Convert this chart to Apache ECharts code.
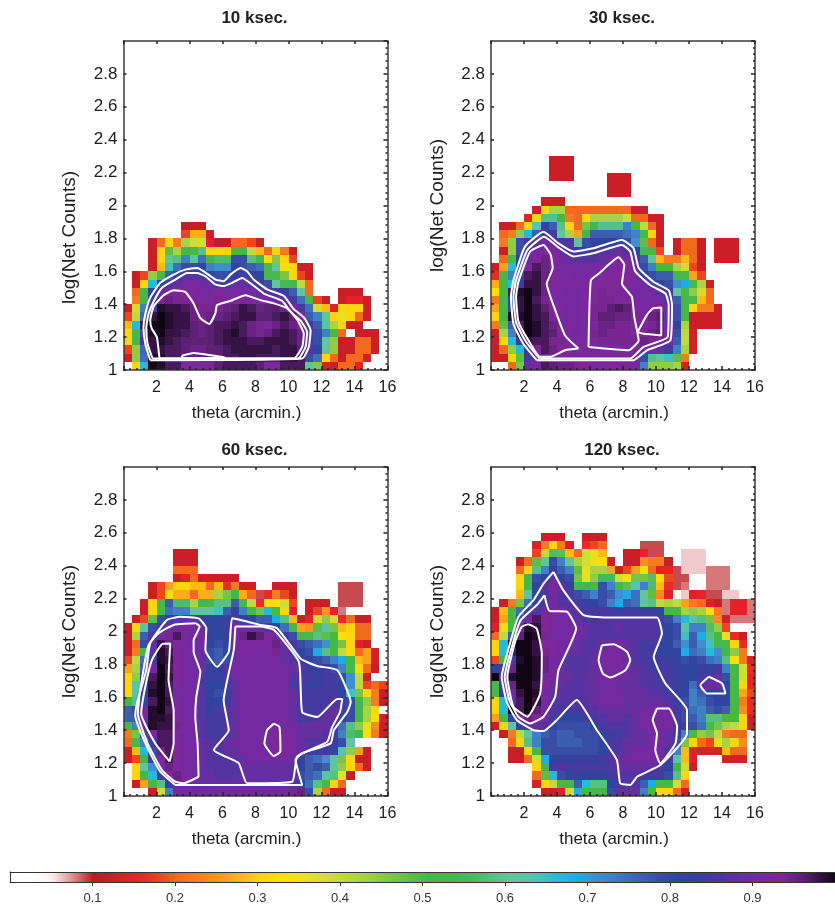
<!DOCTYPE html>
<html><head><meta charset="utf-8">
<style>html,body{margin:0;padding:0;background:#fff}#c{width:835px;height:907px;filter:blur(0.5px)}</style>
<script src="https://cdn.jsdelivr.net/npm/echarts@6/dist/echarts.min.js"></script>
</head><body><div id="c"></div>
<script>
const panelTitles=['10 ksec.','30 ksec.','60 ksec.','120 ksec.'];
const xName='theta (arcmin.)', yName='log(Net Counts)';
const colorbarTicks=[0.1,0.2,0.3,0.4,0.5,0.6,0.7,0.8,0.9];
// colour scale, one stop per 0.025
const scaleColors=['#ffffff','#ffffff','#fdf0f0','#dd8e90','#b81c22','#d0202a','#e8202a','#ee3a20','#f26a20','#f58020','#f89520','#fcb515','#ffd50f','#ffdf00','#f0e215','#d8de2d','#bfd940','#a5d243','#86c845','#65bf47','#45b848','#42b84d','#47ba5e','#55c07e','#60c59a','#58c4ac','#30bdd0','#12b5ea','#3f8fd0','#3f7cc4','#3d66b6','#3a50a8','#2f45a0','#3a3f9e','#4a37a0','#6230a0','#7429a0','#80279a','#5c2075','#2c1038','#000000'];

// fraction in percent; each row is one 0.05 step of log(Net Counts) from 1, each column one 0.5 arcmin step from 0
const rows10=[
[0,30,66,99,98,96,96,92,91,91,92,95,96,96,96,96,95,91,91,96,96,96,60,45,13,12,20,20,15],
[12,44,74,98,98,96,96,95,94,95,95,95,96,96,97,97,96,96,96,97,97,96,78,74,30,20,12,20,20,13],
[18,44,75,97,97,96,96,95,94,94,95,95,96,97,97,97,97,97,96,97,97,95,86,80,60,44,12,12,20,20,12],
[30,50,84,97,98,97,96,95,95,95,95,96,97,97,97,96,96,97,97,97,96,94,84,78,60,44,12,12,20,20,12],
[30,50,78,98,99,97,97,96,95,94,95,96,97,98,96,94,93,94,96,97,96,94,84,78,72,50,20,0,12,12,12],
[28,66,97,99,99,98,97,97,95,94,95,96,96,97,96,94,93,92,94,96,94,93,84,76,62,42,30,12,12],
[18,40,75,97,99,98,97,97,94,93,94,94,95,96,97,97,95,95,96,97,95,92,76,72,60,30,36,30,20,12],
[12,38,72,85,98,97,97,96,94,93,93,93,94,95,97,96,94,95,95,94,92,84,74,38,28,14,30,30,30,12],
[0,22,50,84,93,94,93,93,92,91,91,93,91,92,92,92,91,90,90,86,84,74,50,18,12,0,12,15,15,12],
[0,20,50,80,88,90,92,92,92,90,90,92,90,90,90,90,88,86,84,82,76,60,20,0,0,0,12,12,12],
[0,12,30,66,80,86,88,90,90,90,88,84,84,88,88,86,82,78,60,54,50,40,20],
[0,12,18,44,50,76,82,86,86,84,80,78,78,82,84,80,80,50,50,46,30,18,12],
[0,0,0,12,28,64,74,78,78,80,72,70,70,80,78,76,74,50,60,34,30,12,12],
[0,0,0,12,30,60,58,72,62,74,50,56,56,78,78,58,52,32,45,30,18],
[0,0,0,12,30,48,42,50,50,58,30,30,30,50,50,40,28,20,30,22,12],
[0,0,0,12,20,30,22,42,38,38,14,11,11,20,20,18,12],
[0,0,0,0,0,0,0,18,27,27,12],
[0,0,0,0,0,0,0,11,11,11]];
const rows30=[
[0,0,20,46,88,90,96,95,94,94,93,92,91,91,91,92,93,90,72,44,44,44,42,13],
[12,12,30,48,84,90,93,93,92,92,92,92,92,92,92,92,92,90,78,58,60,64,48,22],
[12,20,44,66,84,93,96,94,92,91,91,91,90,91,91,91,91,91,90,90,88,84,72,42,13],
[12,30,66,82,97,96,96,93,93,91,91,91,92,93,93,93,93,93,94,93,93,88,76,40,13],
[12,42,72,96,99,98,96,95,92,91,90,91,93,94,93,93,93,91,92,94,95,92,78,40,13],
[22,48,76,96,99,98,96,94,91,91,90,91,92,94,94,93,93,92,92,93,94,90,80,42,12,12,12,12],
[30,50,98,98,99,97,96,92,91,90,90,91,93,95,95,94,94,93,92,94,95,88,78,50,12,12,12,12],
[26,50,80,97,99,97,95,92,91,90,90,92,93,93,95,96,95,92,90,92,93,88,78,50,30,22,22,12],
[22,50,80,97,99,96,93,92,90,90,90,92,92,93,93,92,92,91,90,90,90,84,76,50,52,28,20],
[33,50,96,98,99,97,94,91,91,90,90,91,92,93,92,91,91,90,90,90,86,84,60,50,44,38,20],
[27,50,66,84,97,97,94,92,91,91,91,92,92,92,92,92,92,90,90,84,80,78,70,68,50,42,12],
[16,50,72,84,96,97,94,92,91,91,90,90,91,91,92,92,92,90,82,78,76,76,50,50,26,18],
[12,26,66,84,92,96,94,92,90,90,90,90,90,90,90,92,92,88,78,72,50,50,42,38,18,12],
[0,20,50,80,88,92,94,92,90,88,86,86,86,88,90,92,90,86,76,60,28,22,22,28,20,12,0,12,12,12],
[0,12,44,78,86,90,92,92,88,86,84,82,84,86,86,88,86,80,54,50,18,0,12,20,20,12,0,12,12,12],
[0,22,44,78,84,86,90,90,84,86,60,78,80,80,82,80,78,70,48,20,12,0,12,20,20,12,0,12,12,12],
[0,20,22,44,66,76,84,84,60,42,26,50,76,76,76,76,74,72,50,30,12],
[0,12,12,20,30,62,80,76,58,30,20,46,50,58,58,58,72,50,40,20,12],
[0,0,0,0,15,30,58,58,50,22,20,30,42,42,42,42,38,20,20,12,12],
[0,0,0,0,0,12,30,42,42,20,20,20,20,20,20,20,20,12,12],
[0,0,0,0,0,0,12,12,12],
[0,0,0,0,0,0,0,0,0,0,0,0,0,0,12,12,12],
[0,0,0,0,0,0,0,0,0,0,0,0,0,0,12,12,12],
[0,0,0,0,0,0,0,12,12,12,0,0,0,0,12,12,12],
[0,0,0,0,0,0,0,12,12,12],
[0,0,0,0,0,0,0,12,12,12]];
const rows60=[
[0,0,0,12,38,72,90,90,90,90,90,90,90,90,90,90,90,90,90,90,90,94,78,42,20,12,12],
[0,12,26,50,58,80,90,90,90,88,88,88,88,88,88,88,88,88,88,88,86,80,74,58,50,30,20],
[0,30,50,66,84,92,94,92,90,88,88,86,86,86,88,88,88,88,88,88,86,78,76,74,62,58,36,12],
[0,30,60,70,90,94,91,90,90,88,86,86,86,86,88,88,88,88,88,88,86,82,76,78,76,60,44,30,20,12],
[12,18,50,80,92,96,92,90,90,88,86,86,86,88,88,90,90,90,90,90,88,80,76,74,70,62,46,30,12,12],
[12,28,66,78,94,96,92,90,90,88,86,86,88,88,90,90,90,90,92,92,90,88,84,84,84,80,62,44,26,12],
[20,50,72,84,96,96,92,90,90,88,86,86,88,90,90,90,90,90,92,92,90,88,86,86,86,84,78,60],
[22,46,78,92,96,96,92,90,90,86,84,84,86,88,90,90,90,90,92,92,90,88,88,88,86,84,72,56,50,32,22,12],
[50,72,88,98,97,97,93,90,90,86,84,84,86,88,90,90,90,90,90,90,90,88,88,88,88,84,74,58,44,36,24,12],
[76,76,92,98,98,97,92,90,90,86,84,84,84,88,90,90,90,90,90,90,88,84,84,86,88,88,80,78,50,42,32,13],
[76,78,90,98,99,96,92,90,90,86,82,84,86,88,90,90,90,90,90,90,88,84,84,84,86,88,84,78,50,42,30],
[50,58,80,96,99,97,91,90,90,86,82,80,84,88,90,90,90,90,90,90,88,84,84,84,84,86,84,78,50,44,22,12],
[30,62,82,98,99,96,90,90,90,86,80,78,82,88,90,90,90,90,90,90,88,84,84,84,84,84,80,64,46,30,22,12],
[30,62,80,97,99,96,91,90,90,86,80,80,84,88,90,90,90,90,90,90,84,84,82,82,84,84,80,70,40,18,20,18],
[30,44,80,96,99,97,92,90,90,86,82,82,84,90,90,90,90,90,90,90,86,84,84,82,84,84,78,70,40,12],
[26,42,76,90,99,96,92,90,90,88,82,82,86,90,90,90,90,90,90,90,88,86,82,82,84,78,72,50,30,20,12],
[18,40,74,84,98,97,92,90,90,88,78,76,78,90,90,90,90,90,90,88,86,82,80,78,76,72,68,50,28,26,13],
[12,22,50,86,98,96,92,90,90,88,78,76,80,90,91,91,90,90,93,88,84,80,78,68,58,50,40,30,20,26,13],
[12,20,78,88,97,94,92,91,90,90,80,78,80,90,91,91,91,91,94,88,84,78,76,74,70,52,46,30,14,12],
[12,42,76,84,90,93,96,91,90,90,82,80,82,90,94,97,95,91,89,84,78,50,50,58,48,50,34,30,20,20],
[12,30,62,78,84,88,90,91,90,88,80,80,84,90,90,88,88,84,80,74,50,26,25,48,62,46,28,30,20,20],
[0,12,18,48,78,84,86,88,86,84,80,80,82,86,80,80,76,76,68,58,28,12,15,38,44,38,16,20,12,12],
[0,0,12,30,50,74,72,72,60,60,60,64,76,80,72,50,46,66,52,30,14,0,12,18,25,15,8],
[0,0,12,30,50,76,56,56,42,50,50,58,58,76,50,40,16,34,34,38,18,0,12,12,12,0,9,9,9],
[0,0,0,12,18,36,27,27,20,27,27,42,46,50,27,20,9,16,22,18,12,0,0,0,0,0,9,9,9],
[0,0,0,12,18,26,30,30,28,28,20,28,16,22,12,12,0,0,12,12,12,0,0,0,0,0,9,9,9],
[0,0,0,0,0,0,12,15,20,12,12,12,12,12],
[0,0,0,0,0,0,20,20,20],
[0,0,0,0,0,0,12,12,12],
[0,0,0,0,0,0,12,12,12]];
const rows120=[
[0,0,0,0,0,0,12,12,14,38,68,50,50,50,78,88,88,88,72,50,30,30,20,12],
[0,0,0,0,0,13,30,40,50,50,76,66,58,58,80,84,86,86,76,68,50,50,38,20],
[0,0,0,0,0,20,48,66,78,80,82,82,82,82,84,86,86,86,84,84,84,78,58,30],
[0,0,0,0,0,30,50,84,86,84,84,84,84,84,86,88,88,88,88,88,86,80,50,38,12],
[0,0,12,12,20,38,68,80,82,82,82,82,82,84,86,88,90,90,90,90,90,84,62,28,14,0,0,0,13,13,13],
[0,0,12,12,30,50,78,78,78,78,78,78,78,80,84,86,88,90,90,90,90,84,72,28,14,13,13,13,28,20,20],
[0,0,20,30,58,72,78,78,76,76,76,78,78,80,84,86,88,88,88,90,90,88,78,46,30,20,18,36,42,30,24],
[0,12,22,40,60,72,76,78,76,76,78,78,78,80,84,84,86,88,88,90,90,88,84,72,50,44,46,40,22,20,20],
[12,30,62,80,86,88,86,80,78,78,78,78,80,84,86,86,86,88,90,90,90,90,84,80,78,74,54,46,42,40,30,12],
[26,50,80,92,94,92,90,84,80,80,80,82,84,86,88,88,86,88,90,90,90,90,84,78,76,72,58,58,50,50,30,12],
[30,66,99,96,99,95,90,86,84,84,84,86,86,88,88,88,88,88,90,90,90,90,84,78,74,72,76,78,76,50,24,16],
[30,66,86,96,99,97,90,86,86,86,86,86,88,90,90,90,88,88,88,88,88,86,82,78,72,74,78,80,80,50,22,16],
[50,80,90,97,99,98,90,88,87,86,86,87,88,90,90,90,88,88,88,86,86,84,82,80,72,76,80,80,80,50,26,18],
[50,84,94,99,99,97,92,88,88,86,86,87,88,89,90,88,88,88,86,85,84,84,82,80,74,88,88,88,80,50,30,15],
[99,86,98,99,99,98,90,90,88,88,86,87,88,90,90,90,89,88,86,86,84,84,82,80,80,84,86,88,78,50,38,15],
[80,84,94,99,99,98,94,90,88,86,86,86,88,90,91,90,89,87,86,84,84,84,82,80,80,82,80,84,72,50,38,16],
[18,52,84,98,99,98,94,90,88,86,86,86,88,90,91,91,88,86,84,84,84,82,80,78,80,78,74,72,58,34,22,14],
[30,66,96,99,99,97,93,91,90,88,88,86,87,90,91,90,88,86,84,84,82,80,80,68,74,72,66,70,50,44,22],
[30,66,98,99,99,97,92,92,90,90,88,86,86,88,90,90,88,86,84,84,82,80,76,70,76,70,64,52,50,30,16],
[20,40,76,95,99,98,93,90,90,90,90,88,86,86,86,86,86,86,86,86,84,80,78,64,76,68,58,50,36,16,12],
[14,36,50,90,98,97,92,90,90,90,90,88,86,86,86,88,86,86,86,86,84,80,78,62,72,72,56,44,18],
[12,26,50,78,90,96,92,90,90,90,87,85,85,86,86,86,86,86,86,86,84,78,72,66,62,58,46,24,13,8,8,8],
[12,28,50,74,84,86,90,90,90,88,86,84,84,84,84,82,84,84,82,82,80,50,50,42,44,42,34,22,8,15,15,8],
[0,12,22,46,74,82,86,90,86,86,84,82,80,78,72,68,76,74,60,58,40,42,40,26,22,20,14,12,8,15,15,8],
[0,0,0,28,62,80,86,90,86,84,78,76,72,78,76,70,68,74,60,48,24,14,0,6,14,15,9,9,6,6],
[0,0,0,30,50,80,88,92,88,82,50,50,52,78,72,50,48,62,72,56,28,16,9,8,0,0,8,8,8],
[0,0,0,30,50,78,80,88,80,78,46,36,44,54,54,38,34,46,46,48,32,18,9,9,0,0,8,8,8],
[0,0,0,20,30,58,72,82,76,72,48,36,42,42,26,12,18,26,34,20,15,15,9,6,6,6,8,8,8],
[0,0,0,12,20,48,60,78,72,60,42,38,36,34,12,0,12,12,24,22,22,12,0,6,6,6],
[0,0,0,0,0,18,40,56,48,28,20,38,36,28,0,0,12,12,15,9,9,0,0,6,6,6],
[0,0,0,0,0,14,22,30,22,13,0,16,18,20,0,0,0,0,9,9,9],
[0,0,0,0,0,0,12,12,12,0,0,12,12,12]];

// white contour lines, [theta, log counts]
const contours10=[
[[1.62,1.06],[1.32,1.16],[1.21,1.26],[1.32,1.34],[1.62,1.44],[2.23,1.53],[3.04,1.58],[3.74,1.61],[4.45,1.62],[4.86,1.60],[5.57,1.55],[6.07,1.54],[6.48,1.58],[7.09,1.62],[7.49,1.60],[7.89,1.55],[8.70,1.49],[9.72,1.45],[10.32,1.37],[10.93,1.32],[11.34,1.24],[11.23,1.14],[10.83,1.07]],
[[1.76,1.07],[1.46,1.16],[1.38,1.26],[1.52,1.34],[1.82,1.415],[2.33,1.50],[3.14,1.55],[3.85,1.59],[4.45,1.59],[4.96,1.57],[5.57,1.52],[6.07,1.51],[6.58,1.53],[7.19,1.56],[7.79,1.52],[8.5,1.465],[9.62,1.42],[10.12,1.355],[10.73,1.30],[11.13,1.23],[11.03,1.14],[10.57,1.07]],
[[2.17,1.08],[2.02,1.20],[1.72,1.25],[1.62,1.30],[1.82,1.385],[2.43,1.455],[3.04,1.485],[3.74,1.475],[4.25,1.405],[4.66,1.315],[5.2,1.28],[5.57,1.345],[5.67,1.395],[6.48,1.42],[7.39,1.455],[8.3,1.425],[9.11,1.405],[9.92,1.375],[10.53,1.305],[10.93,1.22],[10.83,1.14],[10.32,1.07],[2.17,1.07]],
[[3.54,1.087],[4.25,1.103],[5.26,1.09],[6.17,1.077],[3.54,1.07]]];
const contours30=[
[[2.77,1.06],[1.96,1.16],[1.36,1.28],[1.21,1.445],[1.36,1.545],[2.06,1.75],[3.18,1.84],[4.09,1.77],[5.0,1.72],[6.21,1.74],[7.94,1.79],[8.64,1.74],[8.95,1.62],[9.86,1.535],[10.77,1.485],[10.97,1.395],[10.87,1.18],[9.45,1.12],[8.64,1.06]],
[[2.94,1.07],[2.13,1.17],[1.52,1.29],[1.36,1.445],[1.52,1.545],[2.21,1.73],[3.22,1.81],[4.09,1.745],[5.0,1.69],[6.21,1.71],[7.94,1.76],[8.44,1.72],[8.74,1.60],[9.66,1.515],[10.57,1.465],[10.77,1.395],[10.71,1.20],[9.25,1.14],[8.44,1.07]],
[[5.3,1.13],[4.49,1.12],[3.58,1.08],[2.98,1.08],[2.27,1.18],[1.66,1.295],[1.52,1.445],[1.66,1.535],[2.37,1.72],[3.18,1.76],[3.62,1.70],[3.74,1.62],[3.38,1.525],[3.89,1.365],[4.49,1.21]],
[[5.91,1.14],[6.05,1.545],[6.52,1.585],[7.73,1.685],[8.08,1.64],[7.94,1.525],[8.54,1.445],[8.68,1.325],[8.85,1.24],[8.95,1.18],[8.34,1.12]],
[[8.89,1.23],[9.45,1.335],[9.82,1.375],[10.32,1.38],[10.32,1.21],[9.25,1.22]]];
const contours60=[
[[3.14,1.067],[2.23,1.148],[1.42,1.30],[0.71,1.49],[0.81,1.56],[1.38,1.765],[1.62,1.93],[2.63,2.07],[3.44,2.09],[4.55,2.08],[5.02,2.02],[4.96,1.887],[5.67,1.785],[6.38,1.877],[6.58,2.08],[7.09,2.07],[8.3,2.04],[9.31,2.02],[10.73,1.835],[11.74,1.79],[12.96,1.765],[13.77,1.57],[13.56,1.51],[12.75,1.40],[12.55,1.32],[10.83,1.26],[10.43,1.22],[10.83,1.067]],
[[4.55,1.117],[4.49,1.32],[4.35,1.48],[4.41,1.60],[4.66,1.755],[4.25,1.877],[4.25,1.947],[4.62,2.03],[4.35,2.05],[3.04,2.04],[2.13,1.99],[1.52,1.917],[1.11,1.705],[0.87,1.50],[1.46,1.32],[2.33,1.158],[3.14,1.087],[3.64,1.077]],
[[2.79,1.21],[3.04,1.32],[3.04,1.52],[2.73,1.705],[2.83,1.927],[2.33,1.923],[1.72,1.826],[1.32,1.664],[1.07,1.50],[1.92,1.32]],
[[6.78,2.03],[8.3,2.03],[9.11,2.01],[10.63,1.815],[10.83,1.51],[11.74,1.48],[12.96,1.59],[13.26,1.59],[13.12,1.51],[12.65,1.42],[12.35,1.33],[10.53,1.24],[10.22,1.087],[7.49,1.077],[6.98,1.20],[5.47,1.28],[6.38,1.40],[6.07,1.58],[6.68,1.887]],
[[9.11,1.44],[9.45,1.42],[9.51,1.27],[9.11,1.243],[8.54,1.32],[8.7,1.40]]];
const contours120=[
[[3.79,2.362],[4.39,2.25],[5.61,2.10],[7.23,2.085],[10.06,2.085],[10.36,1.988],[9.86,1.846],[10.57,1.684],[11.88,1.522],[11.88,1.38],[10.26,1.188],[8.85,1.117],[8.44,1.067],[7.83,1.077],[7.63,1.219],[6.42,1.40],[5.2,1.583],[3.99,1.462],[3.18,1.395],[2.57,1.40],[1.56,1.462],[0.95,1.573],[0.65,1.725],[1.15,1.927],[1.66,2.089],[2.57,2.19],[3.18,2.29]],
[[3.24,2.22],[3.54,2.125],[4.6,2.12],[5.16,2.018],[4.09,1.765],[3.89,1.603],[3.18,1.482],[2.37,1.441],[1.66,1.482],[1.11,1.583],[0.83,1.725],[1.32,1.927],[1.8,2.069],[2.77,2.16]],
[[2.27,2.045],[2.77,2.018],[3.08,1.866],[2.98,1.623],[2.21,1.482],[1.36,1.543],[0.99,1.725],[1.46,1.937],[1.86,2.028]],
[[6.72,1.917],[7.43,1.923],[8.24,1.877],[8.44,1.826],[8.14,1.765],[7.23,1.72],[6.78,1.745],[6.52,1.826]],
[[10.06,1.532],[10.77,1.532],[11.28,1.421],[11.18,1.32],[10.26,1.198],[9.96,1.28],[10.06,1.38],[9.8,1.462]],
[[13.2,1.725],[14.01,1.684],[14.21,1.623],[13.09,1.623],[12.69,1.674]]];

const panelRows=[rows10,rows30,rows60,rows120];
const panelContours=[contours10,contours30,contours60,contours120];
const frames=[{left:123.5,top:41,titleTop:10,yNameShift:64},{left:491,top:41,titleTop:10,yNameShift:0},{left:123.5,top:467,titleTop:442,yNameShift:0},{left:491,top:467,titleTop:442,yNameShift:0}];
const W=264,H=329,CW=0.5,CH=0.05;
const FONT='"Liberation Sans",Arial,sans-serif';
const INK='#3a3a3a',TXT='#1c1c1c';

function cells(rows){const out=[];rows.forEach((r,j)=>r.forEach((v,i)=>{if(v>0)out.push([i*CW,1+j*CH,v/100]);}));return out;}
function renderCell(params,api){
  const a=api.coord([api.value(0),api.value(1)]),b=api.coord([api.value(0)+CW,api.value(1)+CH]);
  const x0=Math.round(a[0]),x1=Math.round(b[0]),y1=Math.round(a[1]),y0=Math.round(b[1]);
  return {type:'rect',shape:{x:x0,y:y0,width:x1-x0,height:y1-y0},style:{fill:api.visual('color')}};
}
const grid=[],xAxis=[],yAxis=[],series=[],title=[];
frames.forEach((f,k)=>{
  grid.push({left:f.left,top:f.top,width:W,height:H,show:false});
  title.push({text:panelTitles[k],left:f.left+W/2-1,top:f.titleTop,padding:0,textAlign:'center',textStyle:{fontFamily:FONT,fontSize:17,fontWeight:'bold',color:'#222'}});
  const xb={gridIndex:k,type:'value',min:0,max:16,interval:2,position:'bottom',z:5,splitLine:{show:false},
    axisLine:{show:true,onZero:false,lineStyle:{color:INK,width:1.5}},axisTick:{show:true,inside:true,length:4,lineStyle:{color:'#222',width:1.5}},
    minorTick:{show:true,splitNumber:5,length:2,lineStyle:{color:'#222',width:1.5}},
    axisLabel:{show:true,showMinLabel:false,margin:10,fontFamily:FONT,fontSize:16,color:TXT},
    name:xName,nameLocation:'middle',nameGap:35,nameTextStyle:{fontFamily:FONT,fontSize:17,color:TXT,padding:[0,18,0,0]}};
  const xt={gridIndex:k,type:'value',min:0,max:16,interval:2,position:'top',z:5,splitLine:{show:false},
    axisLine:{show:true,onZero:false,lineStyle:{color:INK,width:1.5}},axisTick:{show:true,inside:true,length:3,lineStyle:{color:'#222',width:1.5}},axisLabel:{show:false}};
  const yl={gridIndex:k,type:'value',min:1,max:3,interval:0.2,position:'left',z:5,splitLine:{show:false},
    axisLine:{show:true,onZero:false,lineStyle:{color:INK,width:1.5}},axisTick:{show:true,inside:true,length:3,lineStyle:{color:'#222',width:1.5}},
    axisLabel:{show:true,showMaxLabel:false,margin:6,fontFamily:FONT,fontSize:17,color:TXT},
    name:yName,nameLocation:'middle',nameGap:44,nameTextStyle:{fontFamily:FONT,fontSize:19,color:TXT,padding:[0,f.yNameShift,0,0]}};
  const yr={gridIndex:k,type:'value',min:1,max:3,interval:0.2,position:'right',z:5,splitLine:{show:false},
    axisLine:{show:true,onZero:false,lineStyle:{color:INK,width:1.5}},axisTick:{show:true,inside:true,length:4,lineStyle:{color:'#222',width:1.5}},
    minorTick:{show:true,splitNumber:5,length:2,lineStyle:{color:'#222',width:1.5}},axisLabel:{show:false}};
  xAxis.push(xb,xt);yAxis.push(yl,yr);
  series.push({type:'custom',xAxisIndex:2*k,yAxisIndex:2*k,coordinateSystem:'cartesian2d',data:cells(panelRows[k]),
    dimensions:['theta','logCounts','fraction'],encode:{x:0,y:1},renderItem:renderCell,silent:true,z:2,animation:false});
});
frames.forEach((f,k)=>{
  panelContours[k].forEach(c=>{
    series.push({type:'line',xAxisIndex:2*k,yAxisIndex:2*k,data:c.concat([c[0]]),showSymbol:false,symbol:'none',silent:true,z:3,
      lineStyle:{color:'#ffffff',width:2},smooth:0.15,animation:false});
  });
});
// colour bar frame and tick axis
grid.push({left:10,top:872,width:834,height:10,show:false});
xAxis.push({gridIndex:4,type:'value',min:0,max:1,interval:0.1,position:'bottom',z:6,splitLine:{show:false},
  axisLine:{show:true,onZero:false,lineStyle:{color:'#333',width:1}},axisTick:{show:true,length:4,customValues:colorbarTicks,lineStyle:{color:'#333'}},
  axisLabel:{show:true,margin:10,fontFamily:'"Liberation Sans Narrow","Liberation Sans",sans-serif',fontSize:13,color:'#333',
    customValues:colorbarTicks,formatter:v=>v.toFixed(1)}});
xAxis.push({gridIndex:4,type:'value',min:0,max:1,interval:0.1,position:'top',z:6,splitLine:{show:false},
  axisLine:{show:true,onZero:false,lineStyle:{color:'#333',width:1}},axisTick:{show:false},axisLabel:{show:false}});
yAxis.push({gridIndex:4,type:'value',min:0,max:1,position:'left',z:6,splitLine:{show:false},
  axisLine:{show:true,onZero:false,lineStyle:{color:'#333',width:1}},axisTick:{show:false},axisLabel:{show:false}});

const chart=echarts.init(document.getElementById('c'),null,{renderer:'canvas',width:835,height:907});
chart.setOption({animation:false,backgroundColor:'#ffffff',title,grid,xAxis,yAxis,series,
  visualMap:[{type:'continuous',min:0,max:1,dimension:2,seriesIndex:[0,1,2,3],orient:'horizontal',show:true,calculable:false,
    left:10,top:872,padding:0,itemWidth:10,itemHeight:834,text:null,hoverLink:false,inRange:{color:scaleColors}}]});
</script></body></html>
